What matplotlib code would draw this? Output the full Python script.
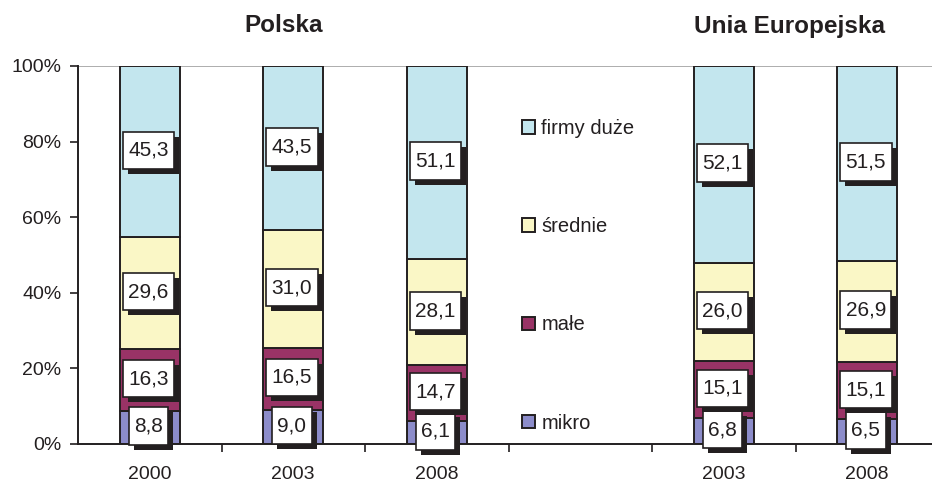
import numpy as np
import matplotlib
matplotlib.use("Agg")
import matplotlib.pyplot as plt
import matplotlib.patheffects as pe
from matplotlib.patches import Patch

plt.rcParams['font.family'] = ['Liberation Sans', 'DejaVu Sans']

# data
year_labels = ["2000", "2003", "2008", "", "2003", "2008"]
bar_slots = [0, 1, 2, 4, 5]
mikro = [8.8, 9.0, 6.1, 6.8, 6.5]
male = [16.3, 16.5, 14.7, 15.1, 15.1]
srednie = [29.6, 31.0, 28.1, 26.0, 26.9]
duze = [45.3, 43.5, 51.1, 52.1, 51.5]
series_names = ["mikro", "małe", "średnie", "firmy duże"]
group_titles = ["Polska", "Unia Europejska"]

colors = ["#8c8cca", "#993366", "#faf7c6", "#c3e6ee"]
edge = "#231f20"

fig = plt.figure(figsize=(9.32, 4.82), dpi=100)
ax = fig.add_axes([78/932, 1 - 444/482, 1 - 78/932, (444 - 66)/482])

bottom = np.zeros(len(bar_slots))
for vals, col in zip([mikro, male, srednie, duze], colors):
    vals = np.array(vals)
    ax.bar(bar_slots, vals, 0.42, bottom=bottom, color=col,
           edgecolor=edge, linewidth=1.4, zorder=2)
    for x, b, v in zip(bar_slots, bottom, vals):
        txt = f"{v:.1f}".replace(".", ",")
        t = ax.annotate(txt, (x, b + v / 2), xytext=(-1, 1), textcoords="offset points",
                        ha="center", va="center", fontsize=15, color=edge,
                        bbox=dict(boxstyle="square,pad=0.26", mutation_aspect=1.7,
                                  fc="white", ec=edge, lw=1.2),
                        zorder=4)
        # black drop shadow under the label box
        t.get_bbox_patch().set_path_effects([
            pe.SimplePatchShadow(offset=(3.6, -3.6), shadow_rgbFace=edge, alpha=1),
            pe.Normal()])
    bottom += vals

ax.set_xlim(-0.5, (932 - 78) / 143.5 - 0.5)
ax.set_ylim(0, 100)

ax.set_yticks(np.arange(0, 101, 20))
ax.set_yticklabels([f"{v}%" for v in range(0, 101, 20)])
ax.axhline(100, color="#a0a0a0", lw=1.2, zorder=1)

ax.set_xticks(np.arange(0.5, 5, 1))
ax.set_xticklabels([])
ax.set_xticks(np.arange(len(year_labels)), minor=True)
ax.set_xticklabels(year_labels, minor=True)
ax.tick_params(axis="x", which="major", length=6, width=1.2, direction="out", color=edge)
ax.tick_params(axis="x", which="minor", length=0, pad=16, labelsize=14, labelcolor=edge)
ax.tick_params(axis="y", length=6, width=1.2, direction="out", color=edge,
               labelsize=14, labelcolor=edge, pad=6)

for s in ["top", "right"]:
    ax.spines[s].set_visible(False)
for s in ["left", "bottom"]:
    ax.spines[s].set_color(edge)
    ax.spines[s].set_linewidth(1.4)

handles = [Patch(facecolor=c, edgecolor=edge, linewidth=1.4, label=n)
           for c, n in zip(colors, series_names)][::-1]
ax.legend(handles=handles, loc="center left", bbox_to_anchor=(0.499, 0.445),
          frameon=False, fontsize=14.5, handlelength=0.65, handleheight=0.65,
          handletextpad=0.3, labelspacing=3.93, labelcolor=edge)

fig.text(284/932, 1 - 26/482, group_titles[0], ha="center", va="center",
         fontsize=17.5, fontweight="bold", color=edge)
fig.text(790/932, 1 - 26/482, group_titles[1], ha="center", va="center",
         fontsize=17.5, fontweight="bold", color=edge)

fig.savefig("out.png", dpi=100)
